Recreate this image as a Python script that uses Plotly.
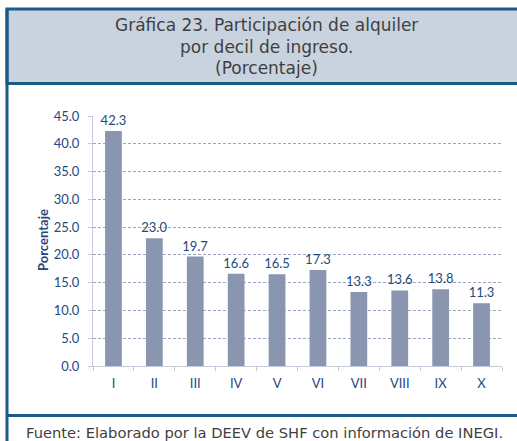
import plotly.graph_objects as go

categories = ["I", "II", "III", "IV", "V", "VI", "VII", "VIII", "IX", "X"]
values = [42.3, 23.0, 19.7, 16.6, 16.5, 17.3, 13.3, 13.6, 13.8, 11.3]
title_lines = ["Gráfica 23. Participación de alquiler", "por decil de ingreso.", "(Porcentaje)"]
y_title = "Porcentaje"
source = "Fuente: Elaborado por la DEEV de SHF con información de INEGI."

W, H = 517, 441
L, R, T, B = 93, 15, 116, 75
PW, PH = W - L - R, H - T - B

def px(x):
    return (x - L) / PW

def py(y):
    return (H - B - y) / PH

BORDER = "#1B5B84"
TXT = "#1F497D"
AXIS = "#C3CAD9"
FONT = "Lato"

fig = go.Figure(go.Bar(
    x=categories, y=values,
    marker=dict(color="#8A95B0", line=dict(width=0)),
    texttemplate="%{y:.1f}", textposition="outside", constraintext="none",
    textfont=dict(family=FONT, size=13, color=TXT),
    cliponaxis=False, width=0.41,
))

fig.update_layout(
    width=W, height=H,
    margin=dict(l=L, r=R, t=T, b=B),
    paper_bgcolor="white", plot_bgcolor="white",
    showlegend=False,
    font=dict(family=FONT, color=TXT, size=13),
)
fig.update_yaxes(
    range=[0, 45], dtick=5, tickformat=".1f",
    showgrid=True, gridcolor="#9AA6C4", griddash="3px,2px", gridwidth=1,
    showline=True, linecolor=AXIS, linewidth=1,
    ticks="outside", ticklen=4, tickcolor=AXIS, ticklabelstandoff=6,
    tickfont=dict(family=FONT, size=13, color=TXT),
    zeroline=False,
)
fig.update_xaxes(
    showline=True, linecolor=AXIS, linewidth=1,
    ticks="outside", ticklen=4, tickcolor=AXIS, tickson="boundaries",
    ticklabelstandoff=5,
    tickfont=dict(family=FONT, size=13, color=TXT),
)

shapes = [
    dict(type="rect", xref="paper", yref="paper", x0=px(7), x1=px(540), y0=py(9), y1=py(83.5),
         fillcolor="#C9D3DF", line=dict(color=BORDER, width=3), layer="below"),
    dict(type="line", xref="paper", yref="paper", x0=px(7), x1=px(7), y0=py(9), y1=py(445),
         line=dict(color=BORDER, width=3)),
    dict(type="line", xref="paper", yref="paper", x0=px(7), x1=px(540), y0=py(415.5), y1=py(415.5),
         line=dict(color=BORDER, width=3)),
]
fig.update_layout(shapes=shapes)

ann = []
for t, yy in zip(title_lines, [25, 47, 68]):
    ann.append(dict(text=t, xref="paper", yref="paper", x=px(266), y=py(yy),
                    showarrow=False, xanchor="center", yanchor="middle",
                    font=dict(family="DejaVu Sans", size=17, color="#3F3F3F")))
ann.append(dict(text=source, xref="paper", yref="paper", x=px(264), y=py(432),
                showarrow=False, xanchor="center", yanchor="middle",
                font=dict(family="DejaVu Sans", size=14.7, color="#3F3F3F")))
ann.append(dict(text="<b>" + y_title + "</b>", xref="paper", yref="paper", x=px(43), y=py(240),
                showarrow=False, xanchor="center", yanchor="middle", textangle=-90,
                font=dict(family=FONT, size=13, color=TXT)))
fig.update_layout(annotations=ann)

fig.write_html("out.html", config={"displayModeBar": False},
               post_script="document.body.style.margin='0';document.body.style.overflow='hidden';")
